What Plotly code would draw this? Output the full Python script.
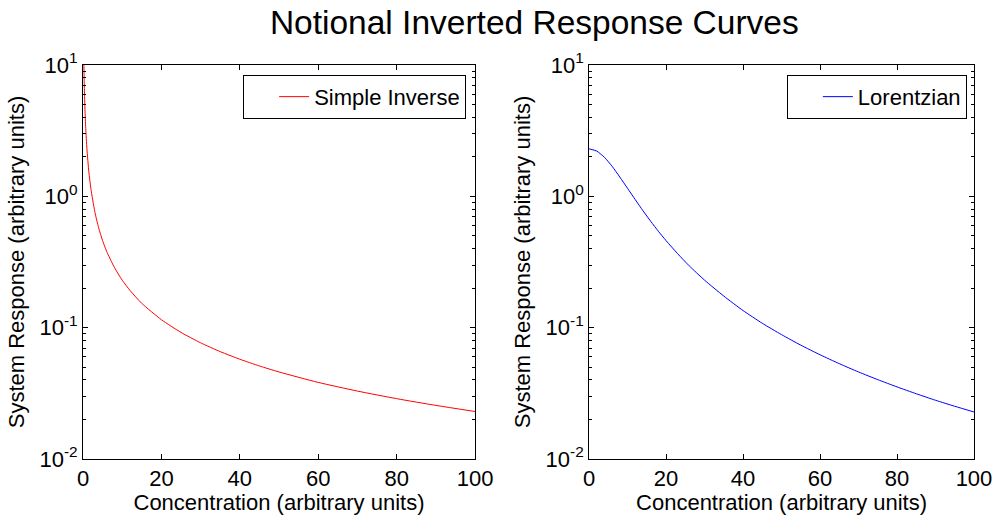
import plotly.graph_objects as go
from plotly.subplots import make_subplots

# Simple inverse curve
inv_x = [0.2, 0.23, 0.3, 0.4, 0.5, 0.7, 1, 1.5, 2, 3, 4, 5, 6, 8, 10, 12, 15, 20,
         25, 30, 35, 40, 45, 50, 60, 70, 80, 90, 100]
inv_y = [11.5, 10.0, 7.67, 5.75, 4.6, 3.29, 2.3, 1.53, 1.15, 0.767, 0.575, 0.46, 0.383,
         0.288, 0.23, 0.192, 0.153, 0.115, 0.092, 0.0767, 0.0657, 0.0575, 0.0511,
         0.046, 0.0383, 0.0329, 0.0288, 0.0256, 0.023]

# Lorentzian curve
lor_x = [0, 2, 4, 6, 8, 10, 12, 14, 16, 18, 20, 23, 26, 30, 35, 40, 45, 50, 55, 60,
         65, 70, 75, 80, 85, 90, 95, 100]
lor_y = [2.30, 2.21, 1.98, 1.69, 1.40, 1.15, 0.943, 0.777, 0.646, 0.542, 0.46, 0.366,
         0.296, 0.23, 0.174, 0.135, 0.108, 0.0885, 0.0736, 0.0622, 0.0532, 0.046,
         0.0402, 0.0354, 0.0314, 0.028, 0.0252, 0.0228]

x_ticks = [0, 20, 40, 60, 80, 100]
y_ticks = [0.01, 0.1, 1, 10]
y_ticktext = ["10<sup>-2</sup>", "10<sup>-1</sup>", "10<sup>0</sup>", "10<sup>1</sup>"]
y_minor = [m * d for d in [0.01, 0.1, 1] for m in range(2, 10)]

FONT = "Liberation Sans, Arial, sans-serif"
FS = 22

fig = make_subplots(rows=1, cols=2)

fig.add_trace(go.Scatter(x=inv_x, y=inv_y, mode="lines", name="Simple Inverse",
                         line=dict(color="red", width=1, shape="spline", smoothing=0.6),
                         legend="legend"), row=1, col=1)
fig.add_trace(go.Scatter(x=lor_x, y=lor_y, mode="lines", name="Lorentzian",
                         line=dict(color="blue", width=1, shape="spline", smoothing=0.6),
                         legend="legend2"), row=1, col=2)

domains = {1: [0.0, 0.44], 2: [0.568, 1.0]}
for c in (1, 2):
    fig.update_xaxes(range=[0, 100], tickvals=x_ticks, ticks="inside", ticklen=5,
                     domain=domains[c],
                     mirror="ticks", showline=True, linecolor="black", linewidth=1,
                     tickcolor="black", showgrid=False, zeroline=False, automargin=False,
                     tickfont=dict(size=FS, color="black", family=FONT),
                     title=dict(text="Concentration (arbitrary units)", standoff=0,
                                font=dict(size=FS, color="black", family=FONT)),
                     row=1, col=c)
    fig.update_yaxes(type="log", range=[-2, 1], tickvals=y_ticks, ticktext=y_ticktext,
                     ticks="inside", ticklen=5, mirror="ticks", showline=True,
                     linecolor="black", linewidth=1, tickcolor="black", showgrid=False,
                     zeroline=False, automargin=False,
                     minor=dict(tickvals=y_minor, ticks="inside", ticklen=3,
                                tickcolor="black", showgrid=False),
                     tickfont=dict(size=FS, color="black", family=FONT),
                     title=dict(text="System Response (arbitrary units)", standoff=8,
                                font=dict(size=FS, color="black", family=FONT)),
                     row=1, col=c)

fig.update_layout(
    width=995, height=515,
    margin=dict(l=83, r=21, t=65, b=56, autoexpand=False),
    paper_bgcolor="white", plot_bgcolor="white",
    font=dict(family=FONT, color="black"),
    title=dict(text="Notional Inverted Response Curves", x=0.537, xref="container",
               xanchor="center", y=0.957, yref="container", yanchor="middle",
               automargin=False,
               font=dict(size=33.5, color="black", family=FONT)),
    legend=dict(x=0.43, y=0.975, xanchor="right", yanchor="top", xref="paper",
                bgcolor="white", bordercolor="black", borderwidth=1, indentation=30,
                font=dict(size=FS, color="black", family=FONT)),
    legend2=dict(x=0.992, y=0.975, xanchor="right", yanchor="top", xref="paper",
                 bgcolor="white", bordercolor="black", borderwidth=1, indentation=30,
                 font=dict(size=FS, color="black", family=FONT)),
    showlegend=True,
)

fig.write_html("out.html", config={"displayModeBar": False},
               post_script="document.body.style.margin='0';")
